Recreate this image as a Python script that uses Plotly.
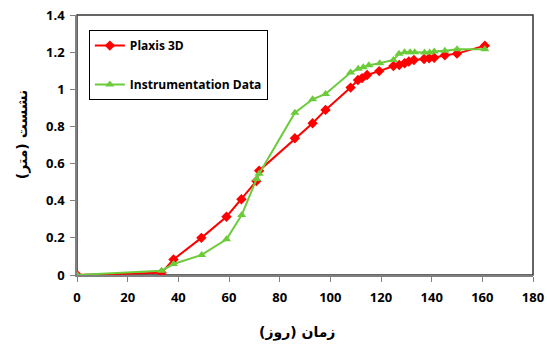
import plotly.graph_objects as go

plaxis_x = [0, 33.4, 38.1, 49.1, 59, 64.9, 70.8, 71.9, 86, 93, 98.1, 108, 110.9, 112.5, 114.5,
            119.3, 124.9, 127.2, 129.3, 131, 133, 137, 139, 141, 145.2, 150, 161]
plaxis_y = [0, 0.012, 0.084, 0.2, 0.314, 0.408, 0.506, 0.562, 0.736, 0.817, 0.889, 1.009, 1.05,
            1.06, 1.077, 1.098, 1.125, 1.131, 1.14, 1.15, 1.158, 1.163, 1.167, 1.17, 1.183, 1.192, 1.235]

instr_x = [0, 33.4, 38.1, 49.2, 59, 65, 70.9, 71.9, 86, 93, 98.1, 108, 111, 113, 115.2, 119.5,
           124.9, 127.1, 129.3, 131.5, 133.3, 137.2, 139.2, 141, 145.2, 150, 161]
instr_y = [0, 0.023, 0.059, 0.108, 0.192, 0.323, 0.517, 0.545, 0.874, 0.946, 0.975, 1.09, 1.11,
           1.118, 1.13, 1.14, 1.158, 1.192, 1.2, 1.2, 1.2, 1.198, 1.198, 1.203, 1.207, 1.216, 1.215]

x_ticks = [0, 20, 40, 60, 80, 100, 120, 140, 160, 180]
y_ticks = [0, 0.2, 0.4, 0.6, 0.8, 1, 1.2, 1.4]
y_tick_labels = ["0", "0.2", "0.4", "0.6", "0.8", "1", "1.2", "1.4"]

x_title = "زمان (روز)"
y_title = "نشست (متر)"

RED = "#FF0000"
GREEN = "#6CCB3A"

fig = go.Figure()
fig.add_trace(go.Scatter(
    x=plaxis_x, y=plaxis_y, name="Plaxis 3D", mode="lines+markers",
    line=dict(color=RED, width=2),
    marker=dict(symbol="diamond", size=8, color=RED),
    legendgroup="a",
))
fig.add_trace(go.Scatter(
    x=instr_x, y=instr_y, name="Instrumentation Data", mode="lines+markers",
    line=dict(color=GREEN, width=2),
    marker=dict(symbol="triangle-up", size=8, color=GREEN),
    legendgroup="b",
))

FONT = "'Open Sans', 'DejaVu Sans', sans-serif"
tick_font = dict(family=FONT, size=13, color="black", weight="bold")
title_font = dict(family="'DejaVu Sans', sans-serif", size=14, color="black", weight="bold")

fig.update_layout(
    width=547, height=345,
    margin=dict(l=77, r=14, t=15, b=70),
    paper_bgcolor="white", plot_bgcolor="white",
    showlegend=True,
    legend=dict(
        x=0.026, y=0.942, xanchor="left", yanchor="top",
        bordercolor="black", borderwidth=1, bgcolor="white",
        font=dict(family=FONT, size=12, color="black", weight="bold"),
        traceorder="grouped", tracegroupgap=20,
        itemwidth=30,
    ),
    xaxis=dict(
        range=[0, 180], tickvals=x_ticks, showgrid=False, zeroline=False,
        showline=True, linecolor="#808080", linewidth=1.5,
        ticks="outside", ticklen=5, tickcolor="#808080",
        tickfont=tick_font, automargin=False, ticklabeloverflow="allow",
        ticklabelstandoff=5,
    ),
    yaxis=dict(
        range=[0, 1.4], tickvals=y_ticks, ticktext=y_tick_labels, showgrid=False, zeroline=False,
        showline=True, linecolor="#808080", linewidth=1.5,
        ticks="outside", ticklen=5, tickcolor="#808080",
        tickfont=tick_font, automargin=False, ticklabeloverflow="allow",
        ticklabelstandoff=3,
    ),
    annotations=[
        dict(text=x_title, xref="paper", yref="paper", x=0.482, y=-0.223,
             xanchor="center", yanchor="middle", showarrow=False, font=title_font),
        dict(text=y_title, xref="paper", yref="paper", x=-0.1206, y=0.538, textangle=-90,
             xanchor="center", yanchor="middle", showarrow=False, font=title_font),
    ],
    shapes=[dict(type="rect", xref="paper", yref="paper", x0=0, y0=0, x1=1, y1=1,
                 line=dict(color="#333333", width=1.5), layer="below")],
)

fig.write_html("out.html", config={"displayModeBar": False},
               post_script="document.body.style.margin='0';")
